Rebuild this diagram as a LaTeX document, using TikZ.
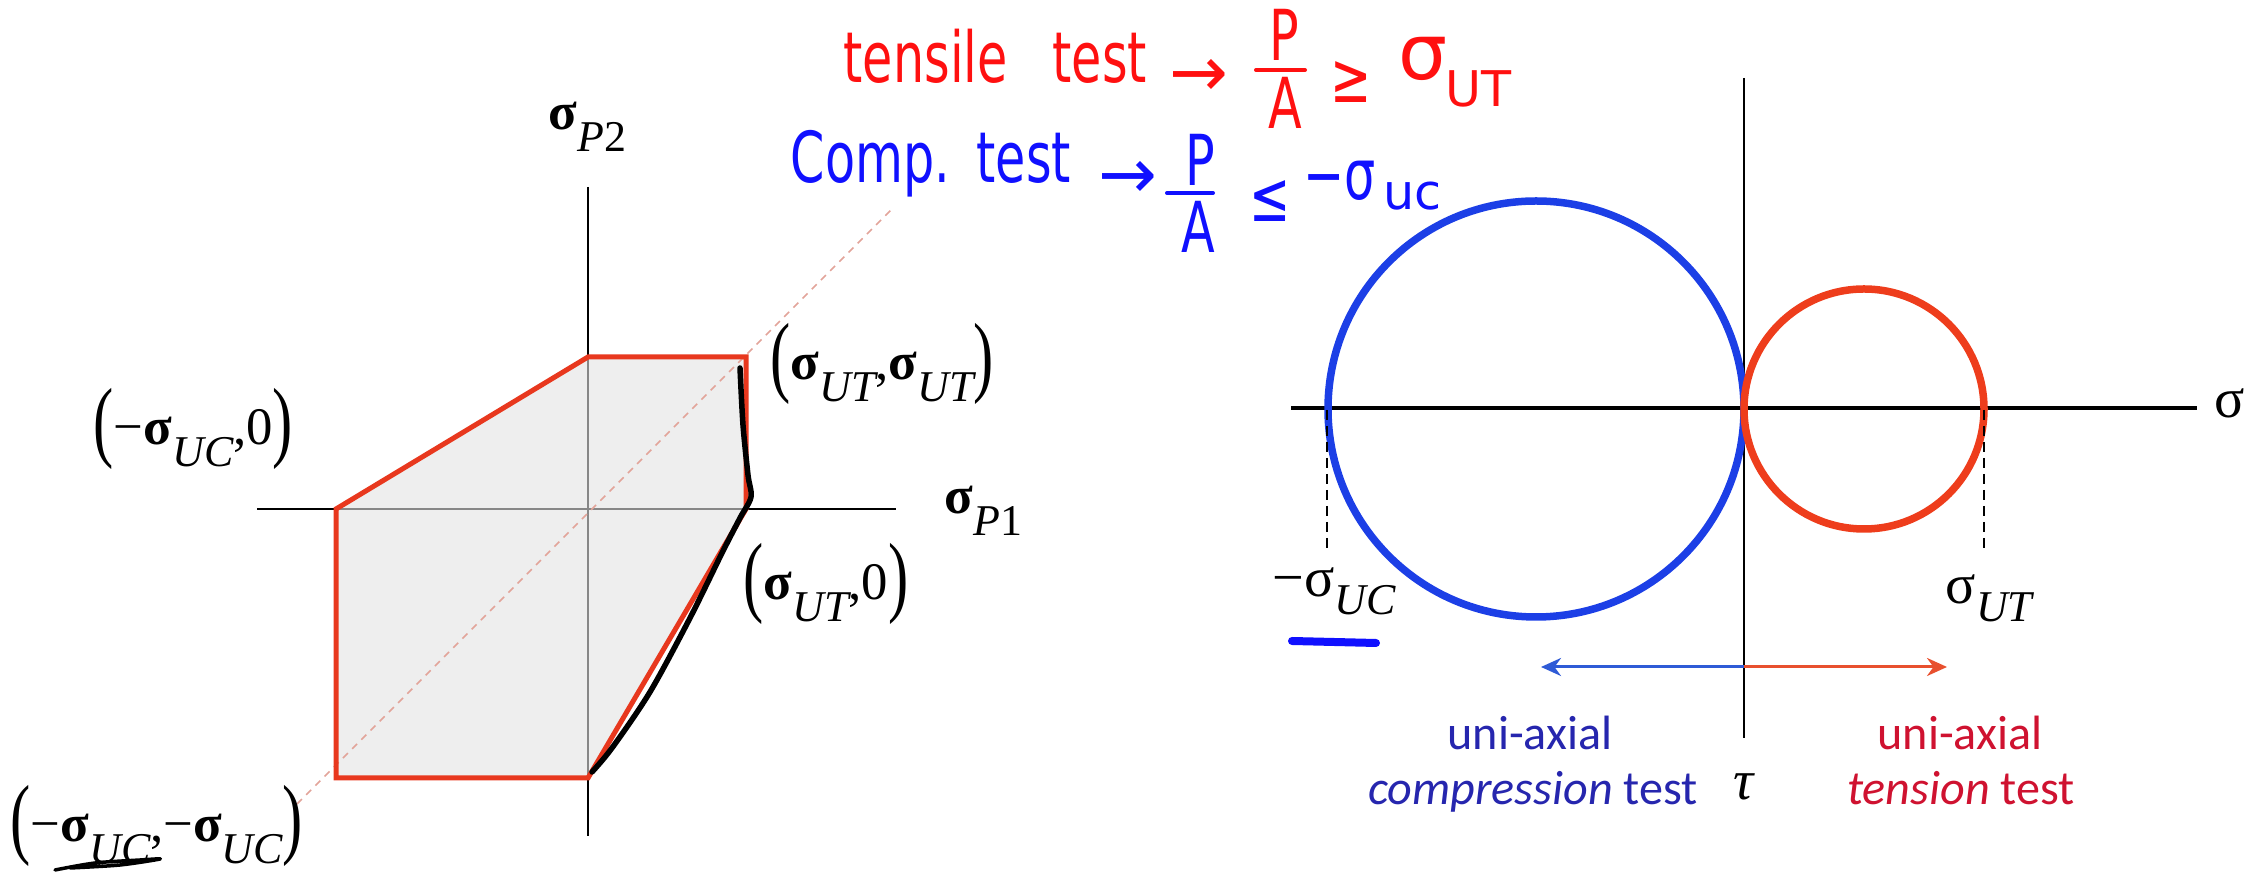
\documentclass[tikz,border=0pt]{standalone}
\usepackage{graphicx}
\usepackage{fontspec}
\setmainfont{Liberation Serif}
\newfontfamily\calfont{Carlito}
\newfontfamily\handfont{DejaVu Sans}
\usetikzlibrary{arrows.meta}
\definecolor{polyred}{HTML}{E8381E}
\definecolor{fillgray}{HTML}{E2E2E2}
\definecolor{diagpink}{HTML}{E2A49A}
\definecolor{circblue}{HTML}{1C3FE6}
\definecolor{circred}{HTML}{EE3D1C}
\definecolor{arrblue}{HTML}{2F5BD6}
\definecolor{arrred}{HTML}{E8502E}
\definecolor{txtblue}{HTML}{2626AE}
\definecolor{txtred}{HTML}{CF1230}
\definecolor{penred}{HTML}{FF1010}
\definecolor{penblue}{HTML}{1010FF}
\newcommand{\bsig}{\textbf{σ}}
\newcommand{\lsub}[1]{\raisebox{-6pt}{\fontsize{12.5pt}{14pt}\selectfont\itshape #1}}
\newcommand{\rsub}[1]{\raisebox{-5pt}{\fontsize{12.5pt}{14pt}\selectfont\itshape #1}}
\newcommand{\mylp}{\raisebox{-1.5pt}{\scalebox{1.15}[1.7]{(}}}
\newcommand{\myrp}{\raisebox{-1.5pt}{\scalebox{1.15}[1.7]{)}}}
\newcommand{\hs}[1]{\scalebox{0.7}[1]{#1}}
\begin{document}
\begin{tikzpicture}[x=0.1mm,y=-0.1mm,
  lab/.style={inner sep=0pt, anchor=base west, font=\fontsize{15pt}{18pt}\selectfont},
  rlab/.style={inner sep=0pt, anchor=base west, font=\fontsize{16pt}{19pt}\selectfont},
  ctext/.style={inner sep=0pt, anchor=base, font=\calfont\fontsize{13.7pt}{16pt}\selectfont},
  hand/.style={inner sep=0pt, font=\handfont\fontsize{20pt}{22pt}\selectfont},
  handsub/.style={inner sep=0pt, anchor=base west, font=\handfont\fontsize{14pt}{16pt}\selectfont},
  axisline/.style={line width=0.2mm, black},
  pen/.style={line width=0.55mm, line cap=round, line join=round},
]
\path[use as bounding box] (0,0) rectangle (2260,872);

% ---------------- left: failure envelope ----------------
\coordinate (A) at (588,357);
\coordinate (B) at (746,357);
\coordinate (C) at (746,509);
\coordinate (D) at (588,778);
\coordinate (E) at (336,778);
\coordinate (F) at (336,509);
\coordinate (ax1L) at (257,509);
\coordinate (ax1R) at (896,509);
\coordinate (ax2T) at (588,187);
\coordinate (ax2B) at (588,836);
\coordinate (dgL) at (297,804);
\coordinate (dgR) at (893,208);

\draw[axisline] (ax1L) -- (ax1R);
\draw[axisline] (ax2T) -- (ax2B);
\fill[fillgray, fill opacity=0.6] (A) -- (B) -- (C) -- (D) -- (E) -- (F) -- cycle;
\draw[diagpink, line width=0.15mm, dash pattern=on 0.7mm off 0.6mm] (dgL) -- (dgR);
\draw[polyred, line width=0.5mm, line join=miter] (A) -- (B) -- (C) -- (D) -- (E) -- (F) -- cycle;

\node[lab] (sP2) at (548,130) {\bsig\lsub{P\upshape 2}};
\node[lab] (sP1) at (944,514) {\bsig\lsub{P\upshape 1}};
\node[lab] (lUTUT) at (770,380) {\mylp\bsig\lsub{UT},\bsig\lsub{UT}\myrp};
\node[lab] (lUC0) at (93,445) {\mylp−\bsig\lsub{UC},0\myrp};
\node[lab] (lUT0) at (743,600) {\mylp\bsig\lsub{UT},0\myrp};
\node[lab] (lUCUC) at (10,842) {\mylp−\bsig\lsub{UC},−\bsig\lsub{UC}\myrp};

% black pen marks
\draw[pen, black] plot[smooth] coordinates {(740,368) (743,425) (748,475) (751,497) (740,518) (722,553) (690,618) (650,692) (612,748) (592,772)};
\draw[pen, black, line width=0.35mm] plot[smooth] coordinates {(55,870) (95,863) (140,860) (160,859) (120,865) (70,868)};

% ---------------- right: Mohr circles ----------------
\coordinate (vT) at (1744,78);
\coordinate (vB) at (1744,738);
\coordinate (hL) at (1291,408);
\coordinate (hR) at (2197,408);
\draw[black, line width=0.25mm] (vT) -- (vB);
\draw[black, line width=0.4mm] (hL) -- (hR);
\draw[circblue, line width=0.75mm] (1536,409) circle[radius=208];
\draw[circred, line width=0.75mm] (1864,409) circle[radius=120];

\coordinate (dL1) at (1327,410);
\coordinate (dL2) at (1327,548);
\coordinate (dR1) at (1984,410);
\coordinate (dR2) at (1984,548);
\draw[black, line width=0.2mm, dash pattern=on 1mm off 0.6mm] (dL1) -- (dL2);
\draw[black, line width=0.2mm, dash pattern=on 1mm off 0.6mm] (dR1) -- (dR2);

\node[rlab] (mUC) at (1272,597) {−σ\rsub{UC}};
\node[rlab] (mUT) at (1945,604) {σ\rsub{UT}};
\node[rlab] (msig) at (2214,418) {σ};
\node[inner sep=0pt, anchor=base, font=\fontsize{16pt}{19pt}\selectfont] (mtau) at (1744,800) {\textit{τ}};

\draw[penblue, line width=0.8mm, line cap=round] (1292,641) -- (1376,643);

\coordinate (arrM) at (1744,667);
\coordinate (arrL) at (1541,667);
\coordinate (arrR) at (1947,667);
\draw[arrblue, line width=0.3mm, -{Stealth[length=2mm,width=1.8mm]}] (arrM) -- (arrL);
\draw[arrred, line width=0.3mm, -{Stealth[length=2mm,width=1.8mm]}] (arrM) -- (arrR);

\node[ctext, txtblue] (bl1) at (1530,750) {uni-axial};
\node[ctext, txtblue] (bl2) at (1533,805) {\itshape compression\upshape{} test};
\node[ctext, txtred] (rd1) at (1960,750) {uni-axial};
\node[ctext, txtred] (rd2) at (1961,805) {\itshape tension\upshape{} test};

% ---------------- handwritten notes ----------------
\node[hand, penred, anchor=base west] (h1) at (843,83) {\hs{tensile}};
\node[hand, penred, anchor=base west] (h2) at (1052,83) {\hs{test}};
\node[hand, penred, anchor=center] (h3) at (1199,78) {→};
\node[hand, penred, anchor=center] (h4P) at (1284,35) {\hs{P}};
\node[hand, penred, anchor=center] (h4A) at (1285,103) {\hs{A}};
\draw[penred, line width=0.4mm, line cap=round] (1256,70) -- (1305,70);
\node[hand, penred, anchor=center] (h5) at (1351,82) {\hs{≥}};
\node[hand, penred, anchor=base west, font=\handfont\fontsize{22pt}{24pt}\selectfont] (h6) at (1398,80) {σ};
\node[handsub, penred] (h7) at (1445,107) {UT};

\node[hand, penblue, anchor=base west] (b1) at (790,183) {\hs{Comp.}};
\node[hand, penblue, anchor=base west] (b2) at (976,183) {\hs{test}};
\node[hand, penblue, anchor=center] (b3) at (1128,180) {→};
\node[hand, penblue, anchor=center] (b4P) at (1200,160) {\hs{P}};
\node[hand, penblue, anchor=center] (b4A) at (1198,227) {\hs{A}};
\draw[penblue, line width=0.4mm, line cap=round] (1167,193) -- (1213,193);
\node[hand, penblue, anchor=center] (b5) at (1270,201) {\hs{≤}};
\node[hand, penblue, anchor=base west] (b6) at (1303,200) {\hs{−σ}};
\node[handsub, penblue] (b7) at (1383,210) {uc};
\end{tikzpicture}
\end{document}
